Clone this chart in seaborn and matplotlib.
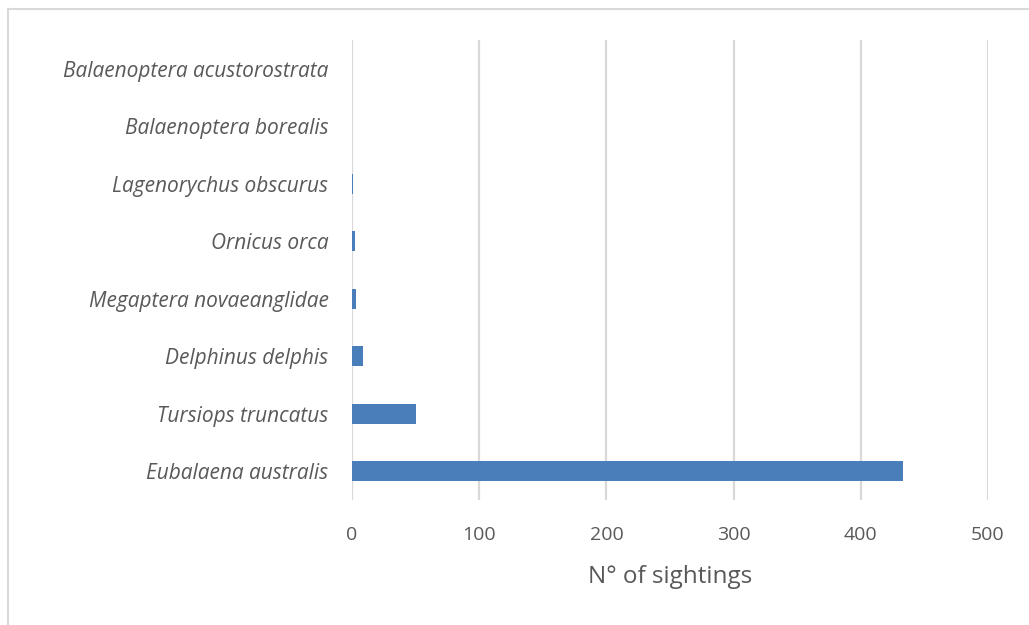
import matplotlib
matplotlib.use("Agg")
import matplotlib.pyplot as plt
import seaborn as sns
import pandas as pd
from matplotlib.lines import Line2D

# Sightings per species
species = [
    "Balaenoptera acustorostrata",
    "Balaenoptera borealis",
    "Lagenorychus obscurus",
    "Ornicus orca",
    "Megaptera novaeanglidae",
    "Delphinus delphis",
    "Tursiops truncatus",
    "Eubalaena australis",
]
sightings = [0, 0, 1, 2, 3, 9, 50, 433]
x_ticks = [0, 100, 200, 300, 400, 500]

df = pd.DataFrame({"species": species, "sightings": sightings})

sns.set_theme(style="white")
plt.rcParams["font.family"] = ["Open Sans", "DejaVu Sans"]

grey_text = "#595959"
grid_col = "#d9d9d9"

fig = plt.figure(figsize=(10.29, 6.25), dpi=100)
ax = fig.add_axes([352 / 1029, 1 - 500 / 625, 636 / 1029, 460 / 625])

sns.barplot(data=df, x="sightings", y="species", order=species, orient="h",
            color="#4a7ebb", width=0.35, saturation=1,
            linewidth=0, ax=ax, zorder=3)

ax.set_xlim(0, 500)
ax.set_ylim(len(species) - 0.5, -0.5)
ax.set_xticks(x_ticks)
ax.set_xticklabels([str(t) for t in x_ticks], fontsize=14, color=grey_text)
ax.set_yticks(range(len(species)))
ax.set_yticklabels(species, fontsize=15, color=grey_text, style="italic")
ax.tick_params(axis="both", length=0)
ax.tick_params(axis="y", pad=17)
ax.tick_params(axis="x", pad=19)

ax.grid(axis="x", color=grid_col, linewidth=1.6, zorder=0)
ax.grid(axis="y", visible=False)
ax.set_axisbelow(True)
for s in ax.spines.values():
    s.set_visible(False)

ax.set_xlabel("N° of sightings", fontsize=17.5, color=grey_text, labelpad=15)
ax.set_ylabel("")

# chart-area frame (top and left edges)
fig.add_artist(Line2D([8 / 1029, 1.0], [1 - 9 / 625, 1 - 9 / 625],
                      transform=fig.transFigure, color=grid_col, linewidth=1.5))
fig.add_artist(Line2D([8 / 1029, 8 / 1029], [0.0, 1 - 9 / 625],
                      transform=fig.transFigure, color=grid_col, linewidth=1.5))

fig.savefig("out.png", dpi=100, facecolor="white")
